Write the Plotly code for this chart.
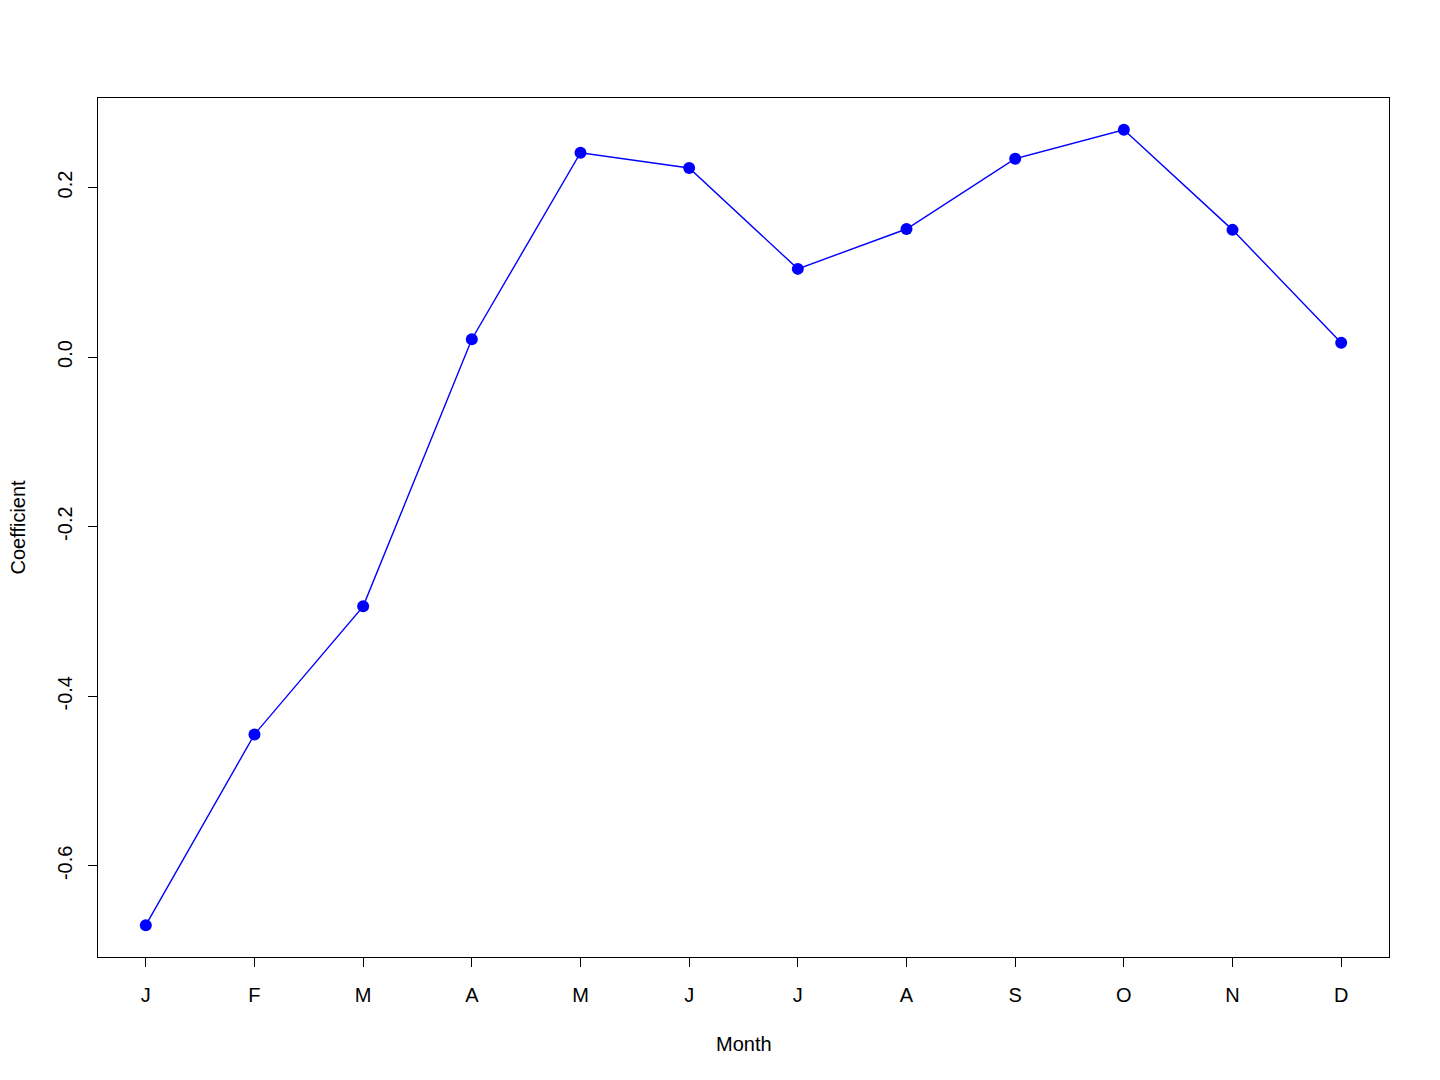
import plotly.graph_objects as go

months = [1, 2, 3, 4, 5, 6, 7, 8, 9, 10, 11, 12]
month_labels = ["J", "F", "M", "A", "M", "J", "J", "A", "S", "O", "N", "D"]
coefficient = [-0.670, -0.445, -0.294, 0.021, 0.241, 0.223, 0.104, 0.151, 0.234, 0.268, 0.150, 0.017]
y_ticks = [-0.6, -0.4, -0.2, 0.0, 0.2]
y_tick_labels = ["-0.6", "-0.4", "-0.2", "0.0", "0.2"]

W, H = 1440, 1080
ml, mr, mt, mb = 90, 59, 90, 131
pw, ph = W - ml - mr, H - mt - mb

fnt = dict(family="Liberation Sans, Arial, sans-serif", size=20, color="black")

fig = go.Figure()
fig.add_trace(go.Scatter(
    x=months, y=coefficient, mode="lines+markers",
    line=dict(color="#0000FF", width=1.4),
    marker=dict(color="#0000FF", size=12, line=dict(width=0)),
    showlegend=False,
))

xmin, xmax = min(months), max(months)
xpad = (xmax - xmin) * 0.04
ymin, ymax = min(coefficient), max(coefficient)
ypad = (ymax - ymin) * 0.04

fig.update_layout(
    width=W, height=H,
    margin=dict(l=ml, r=mr, t=mt, b=mb, pad=0),
    paper_bgcolor="white", plot_bgcolor="white",
    font=fnt,
    xaxis=dict(
        range=[xmin - xpad, xmax + xpad], tickvals=months, ticktext=month_labels,
        showgrid=False, zeroline=False, showline=True, mirror=True,
        linecolor="black", linewidth=1.3, ticks="outside", ticklen=9, tickwidth=1.3,
        tickcolor="black", tickfont=fnt, ticklabelstandoff=11,
    ),
    yaxis=dict(
        range=[ymin - ypad, ymax + ypad], tickvals=y_ticks, ticktext=y_tick_labels,
        showgrid=False, zeroline=False, showline=True, mirror=True,
        linecolor="black", linewidth=1.3, ticks="outside", ticklen=9, tickwidth=1.3,
        tickcolor="black", tickfont=fnt, tickangle=-90, ticklabelstandoff=8,
    ),
    annotations=[
        dict(text="Month", xref="paper", yref="paper", x=0.5, y=-87 / ph,
             xanchor="center", yanchor="middle", showarrow=False, font=fnt),
        dict(text="Coefficient", xref="paper", yref="paper", x=-81 / pw, y=0.5,
             xanchor="center", yanchor="middle", showarrow=False, font=fnt,
             textangle=-90),
    ],
)

fig.write_html("out.html")
